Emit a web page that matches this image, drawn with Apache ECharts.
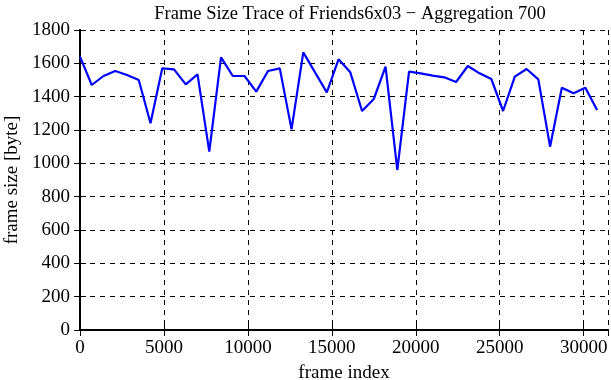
<!DOCTYPE html>
<html>
<head>
<meta charset="utf-8">
<script src="https://cdn.jsdelivr.net/npm/echarts@6/dist/echarts.min.js"></script>
<style>html,body{margin:0;padding:0;background:#fff}#c{width:611px;height:380px}</style>
</head>
<body>
<div id="c"></div>
<script>
const frameIndex = [0,700,1400,2100,2800,3500,4200,4900,5600,6300,7000,7700,8400,9100,9800,10500,11200,11900,12600,13300,14000,14700,15400,16100,16800,17500,18200,18900,19600,20300,21000,21700,22400,23100,23800,24500,25200,25900,26600,27300,28000,28700,29400,30100,30800];
const frameSize = [1640,1470,1524,1554,1530,1500,1240,1570,1564,1474,1534,1070,1636,1524,1524,1430,1554,1570,1204,1666,1546,1426,1624,1546,1314,1386,1580,960,1550,1540,1526,1516,1488,1584,1540,1506,1314,1520,1566,1504,1100,1454,1420,1454,1320];
const yTicks = [0,200,400,600,800,1000,1200,1400,1600,1800];
const xTicks = [0,5000,10000,15000,20000,25000,30000];

const font = 'Liberation Serif';
const chart = echarts.init(document.getElementById('c'), null, {renderer:'canvas'});
const pts = frameIndex.map((x,i)=>[x, frameSize[i]]);
const tick = {show:true, inside:true, length:6, lineStyle:{color:'#000', width:1}};
const fmt = v => String(v);
chart.setOption({
  animation:false,
  title:{text:'Frame Size Trace of Friends6x03 \u2212 Aggregation 700', left:345, textAlign:'center', top:0,
    textStyle:{fontFamily:font, fontSize:18.5, fontWeight:'normal', color:'#000'}},
  grid:{left:80, right:3, top:30, bottom:50, containLabel:false, outerBoundsMode:'none'},
  xAxis:[{type:'value', min:0, max:31450, interval:5000, name:'frame index', nameLocation:'middle', nameGap:34,
    nameTextStyle:{fontFamily:font, fontSize:19, color:'#000'},
    axisLine:{show:true, onZero:false, lineStyle:{color:'#000', width:2}},
    axisTick:tick,
    axisLabel:{fontFamily:font, fontSize:19, color:'#000', margin:9, showMaxLabel:false, formatter:fmt},
    splitLine:{show:true, lineStyle:{color:'#000', type:[5,5], width:1}}},
   {type:'value', position:'top', min:0, max:31450, interval:5000,
    axisLine:{show:true, lineStyle:{color:'#000', width:2}}, axisTick:tick, axisLabel:{show:false}, splitLine:{show:false}}],
  yAxis:[{type:'value', min:0, max:1800, interval:200, name:'frame size [byte]', nameLocation:'middle', nameGap:56,
    nameTextStyle:{fontFamily:font, fontSize:19, color:'#000'},
    axisLine:{show:true, lineStyle:{color:'#000', width:2}},
    axisTick:tick,
    axisLabel:{fontFamily:font, fontSize:19, color:'#000', margin:10, formatter:fmt},
    splitLine:{show:true, lineStyle:{color:'#000', type:[5,5], width:1}}},
   {type:'value', position:'right', min:0, max:1800, interval:200,
    axisLine:{show:true, lineStyle:{color:'#000', width:2}}, axisTick:tick, axisLabel:{show:false}, splitLine:{show:false}}],
  series:[{type:'line', data:pts, showSymbol:false, symbol:'none',
    lineStyle:{color:'#0000ff', width:2.2}, itemStyle:{color:'#0000ff'}}]
});
</script>
</body>
</html>
